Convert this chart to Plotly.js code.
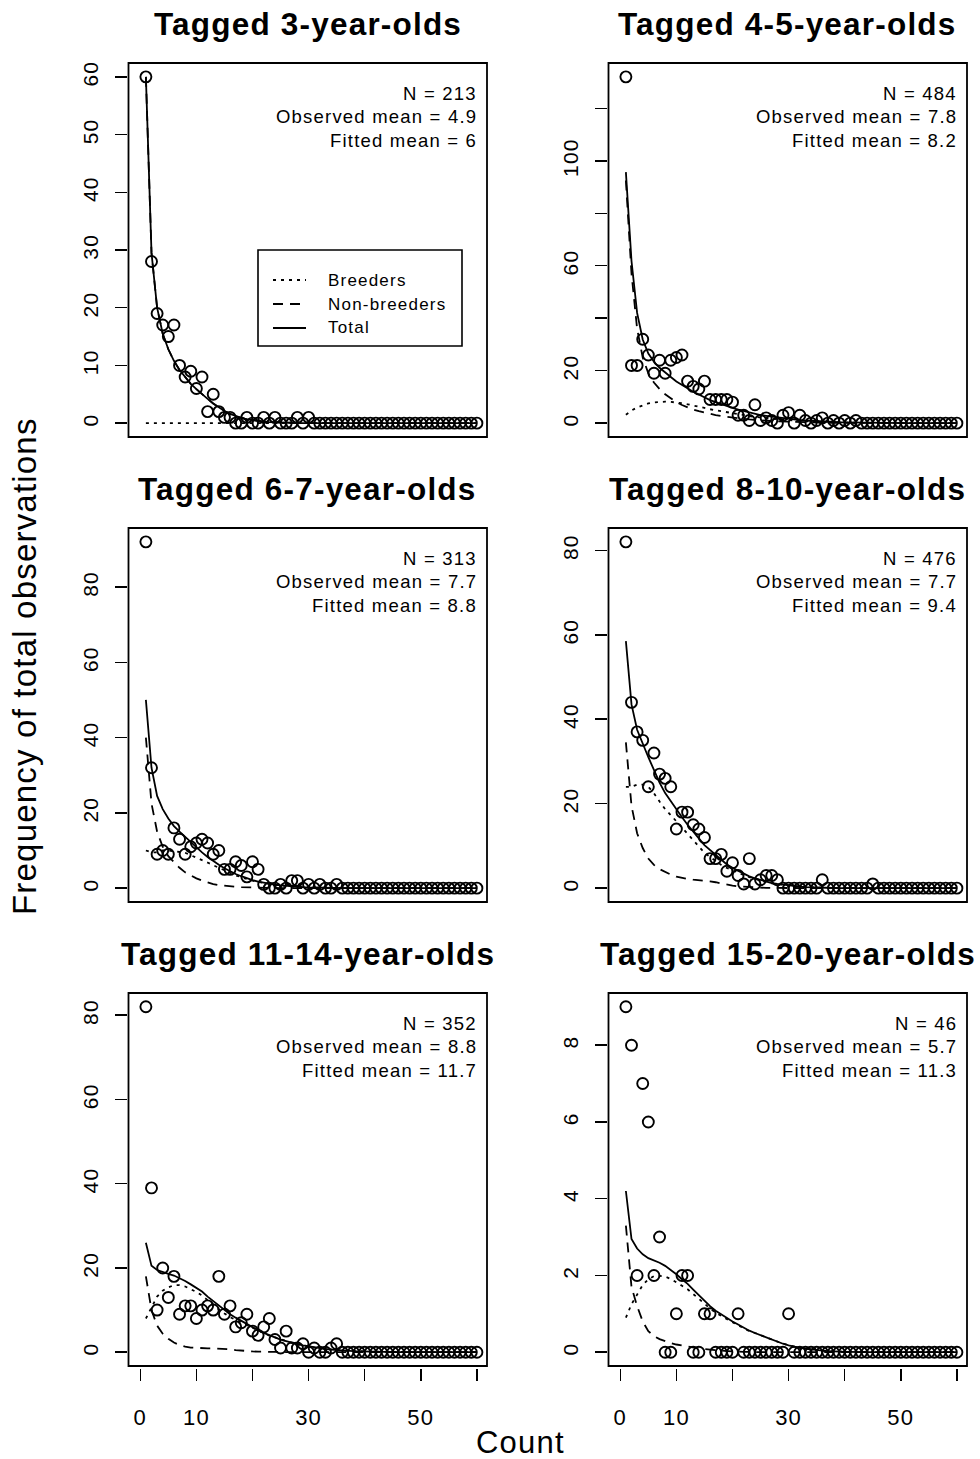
<!DOCTYPE html>
<html>
<head>
<meta charset="utf-8">
<script src="https://cdn.plot.ly/plotly-3.0.1.min.js"></script>
<style>
  html, body { margin: 0; padding: 0; background: #ffffff; }
  #chart { width: 980px; height: 1459px; }
  svg text { letter-spacing: 1.2px; }
</style>
</head>
<body>
<div id="chart"></div>
<script>
// Number of times each tagged bird was counted (x values shared by all panels)
const counts = [1,2,3,4,5,6,7,8,9,10,11,12,13,14,15,16,17,18,19,20,
  21,22,23,24,25,26,27,28,29,30,31,32,33,34,35,36,37,38,39,40,
  41,42,43,44,45,46,47,48,49,50,51,52,53,54,55,56,57,58,59,60];

// ---- Tagged 3-year-olds ----
const obsAge3 = [60,28,19,17,15,17,10,8,9,6, 8,2,5,2,1,1,0,0,1,0,
  0,1,0,1,0,0,0,1,0,1, 0,0,0,0,0,0,0,0,0,0, 0,0,0,0,0,0,0,0,0,0, 0,0,0,0,0,0,0,0,0,0];
const breedersAge3 = [0,0,0,0,0,0,0,0,0,0, 0,0,0,0,0,0,0,0,0,0,
  0,0,0,0,0,0,0,0,0,0, 0,0,0,0,0,0,0,0,0,0, 0,0,0,0,0,0,0,0,0,0, 0,0,0,0,0,0,0,0,0,0];
const nonBreedersAge3 = [60,29.5,20,15.5,12.8,10.8,9.2,7.9,6.8,5.9, 5.0,4.2,3.4,2.7,2.1,1.6,1.2,0.9,0.65,0.48,
  0.35,0.25,0.18,0.13,0.09,0.06,0.04,0.03,0.02,0.01, 0,0,0,0,0,0,0,0,0,0, 0,0,0,0,0,0,0,0,0,0, 0,0,0,0,0,0,0,0,0,0];
const totalAge3 = [60,29.5,20,15.5,12.8,10.8,9.2,7.9,6.8,5.9, 5.0,4.2,3.4,2.7,2.1,1.6,1.2,0.9,0.65,0.48,
  0.35,0.25,0.18,0.13,0.09,0.06,0.04,0.03,0.02,0.01, 0,0,0,0,0,0,0,0,0,0, 0,0,0,0,0,0,0,0,0,0, 0,0,0,0,0,0,0,0,0,0];

// ---- Tagged 4-5-year-olds ----
const obsAge4to5 = [132,22,22,32,26,19,24,19,24,25, 26,16,14,13,16,9,9,9,9,8,
  3,3,1,7,1,2,1,0,3,4, 0,3,1,0,1,2,0,1,0,1, 0,1,0,0,0,0,0,0,0,0, 0,0,0,0,0,0,0,0,0,0];
const breedersAge4to5 = [3.2,4.8,6.0,6.9,7.5,7.9,8.1,8.2,8.1,7.9, 7.6,7.2,6.8,6.3,5.8,5.3,4.9,4.5,4.1,3.7,
  3.4,3.0,2.7,2.4,2.1,1.9,1.7,1.5,1.3,1.1, 0.95,0.8,0.7,0.6,0.5,0.42,0.35,0.29,0.24,0.2,
  0.16,0.13,0.1,0.08,0.06,0.05,0.04,0.03,0.02,0.02, 0.01,0.01,0.01,0,0,0,0,0,0,0];
const nonBreedersAge4to5 = [92.5,57,36,25,19,15.5,13,11,9.5,8, 6.9,6,5.2,4.6,4.0,3.5,3.1,2.7,2.4,2.1,
  1.8,1.6,1.4,1.2,1.0,0.9,0.8,0.7,0.6,0.5, 0.42,0.36,0.3,0.25,0.21,0.18,0.15,0.12,0.1,0.08,
  0.07,0.06,0.05,0.04,0.03,0.03,0.02,0.02,0.01,0.01, 0.01,0,0,0,0,0,0,0,0,0];
const totalAge4to5 = [95.7,61.8,42,31.9,26.5,23.4,21.1,19.2,17.6,15.9, 14.5,13.2,12.0,10.9,9.8,8.8,8.0,7.2,6.5,5.8,
  5.2,4.6,4.1,3.6,3.1,2.8,2.5,2.2,1.9,1.6, 1.37,1.16,1.0,0.85,0.71,0.6,0.5,0.41,0.34,0.28,
  0.23,0.19,0.15,0.12,0.09,0.08,0.06,0.05,0.03,0.03, 0.02,0.01,0.01,0,0,0,0,0,0,0];

// ---- Tagged 6-7-year-olds ----
const obsAge6to7 = [92,32,9,10,9,16,13,9,11,12, 13,12,9,10,5,5,7,6,3,7,
  5,1,0,0,1,0,2,2,0,1, 0,1,0,0,1,0,0,0,0,0, 0,0,0,0,0,0,0,0,0,0, 0,0,0,0,0,0,0,0,0,0];
const breedersAge6to7 = [10,9.5,9.5,10,10,9.7,9.6,9.4,8.8,8.2, 7.5,6.8,6.1,5.4,4.7,4.0,3.4,2.9,2.4,2.0,
  1.65,1.35,1.1,0.88,0.7,0.55,0.43,0.33,0.25,0.19, 0.14,0.1,0.08,0.06,0.04,0.03,0.02,0.01,0.01,0,
  0,0,0,0,0,0,0,0,0,0, 0,0,0,0,0,0,0,0,0,0];
const nonBreedersAge6to7 = [40,22.5,15,11,8.5,6.8,5.4,4.2,3.3,2.6, 2.0,1.5,1.1,0.8,0.6,0.45,0.35,0.27,0.2,0.15,
  0.11,0.08,0.06,0.04,0.03,0.02,0.01,0.01,0,0, 0,0,0,0,0,0,0,0,0,0, 0,0,0,0,0,0,0,0,0,0, 0,0,0,0,0,0,0,0,0,0];
const totalAge6to7 = [50,32,24.5,21,18.5,16.5,15,13.6,12.1,10.8, 9.5,8.3,7.2,6.2,5.3,4.45,3.75,3.17,2.6,2.15,
  1.76,1.43,1.16,0.92,0.73,0.57,0.44,0.34,0.25,0.19, 0.14,0.1,0.08,0.06,0.04,0.03,0.02,0.01,0.01,0,
  0,0,0,0,0,0,0,0,0,0, 0,0,0,0,0,0,0,0,0,0];

// ---- Tagged 8-10-year-olds ----
const obsAge8to10 = [82,44,37,35,24,32,27,26,24,14, 18,18,15,14,12,7,7,8,4,6,
  3,1,7,1,2,3,3,2,0,0, 0,0,0,0,0,2,0,0,0,0, 0,0,0,0,1,0,0,0,0,0, 0,0,0,0,0,0,0,0,0,0];
const breedersAge8to10 = [24,24,24.5,24.5,24,22.5,20.5,18.7,17.3,15.8, 14.4,12.8,11.3,9.9,8.4,7.4,6.4,5.5,4.8,4.2,
  3.7,3.1,2.6,2.15,1.8,1.43,1.15,0.97,0.78,0.59, 0.45,0.35,0.25,0.18,0.12,0.08,0.05,0.03,0.02,0.01,
  0,0,0,0,0,0,0,0,0,0, 0,0,0,0,0,0,0,0,0,0];
const nonBreedersAge8to10 = [34.5,19.5,13,9.5,7,5.5,4.5,3.8,3.2,2.7, 2.4,2.2,2.0,1.9,1.8,1.6,1.4,1.1,0.8,0.6,
  0.4,0.3,0.2,0.15,0.1,0.07,0.05,0.03,0.02,0.01, 0,0,0,0,0,0,0,0,0,0, 0,0,0,0,0,0,0,0,0,0, 0,0,0,0,0,0,0,0,0,0];
const totalAge8to10 = [58.5,43.5,37.5,34,31,28,25,22.5,20.5,18.5, 16.8,15,13.3,11.8,10.2,9,7.8,6.6,5.6,4.8,
  4.1,3.4,2.8,2.3,1.9,1.5,1.2,1.0,0.8,0.6, 0.45,0.35,0.25,0.18,0.12,0.08,0.05,0.03,0.02,0.01,
  0,0,0,0,0,0,0,0,0,0, 0,0,0,0,0,0,0,0,0,0];

// ---- Tagged 11-14-year-olds ----
const obsAge11to14 = [82,39,10,20,13,18,9,11,11,8, 10,11,10,18,9,11,6,7,9,5,
  4,6,8,3,1,5,1,1,2,0, 1,0,0,1,2,0,0,0,0,0, 0,0,0,0,0,0,0,0,0,0, 0,0,0,0,0,0,0,0,0,0];
const breedersAge11to14 = [8,10.5,13.2,14.6,15.4,15.9,15.9,15.6,15.0,14.3, 13.45,12.3,11.2,10.15,9.2,8.3,7.7,7.05,6.35,5.72,
  5.08,4.52,3.95,3.47,2.98,2.59,2.2,1.9,1.6,1.35, 1.1,0.92,0.76,0.62,0.5,0.4,0.32,0.25,0.2,0.15,
  0.12,0.09,0.07,0.05,0.04,0.03,0.02,0.02,0.01,0.01, 0,0,0,0,0,0,0,0,0,0];
const nonBreedersAge11to14 = [18,10,6.3,4.4,3.2,2.3,1.7,1.3,1.1,1.0, 0.95,0.9,0.9,0.85,0.8,0.7,0.5,0.35,0.25,0.18,
  0.12,0.08,0.05,0.03,0.02,0.01,0,0,0,0, 0,0,0,0,0,0,0,0,0,0, 0,0,0,0,0,0,0,0,0,0, 0,0,0,0,0,0,0,0,0,0];
const totalAge11to14 = [26,20.5,19.5,19,18.6,18.2,17.6,16.9,16.1,15.3, 14.4,13.2,12.1,11.0,10.0,9.0,8.2,7.4,6.6,5.9,
  5.2,4.6,4.0,3.5,3.0,2.6,2.2,1.9,1.6,1.35, 1.1,0.92,0.76,0.62,0.5,0.4,0.32,0.25,0.2,0.15,
  0.12,0.09,0.07,0.05,0.04,0.03,0.02,0.02,0.01,0.01, 0,0,0,0,0,0,0,0,0,0];

// ---- Tagged 15-20-year-olds ----
const obsAge15to20 = [9,8,2,7,6,2,3,0,0,1, 2,2,0,0,1,1,0,0,0,0,
  1,0,0,0,0,0,0,0,0,1, 0,0,0,0,0,0,0,0,0,0, 0,0,0,0,0,0,0,0,0,0, 0,0,0,0,0,0,0,0,0,0];
const breedersAge15to20 = [0.9,1.25,1.5,1.75,1.9,1.98,1.99,1.97,1.91,1.83, 1.73,1.64,1.51,1.38,1.25,1.14,1.03,0.94,0.85,0.78,
  0.7,0.62,0.55,0.5,0.44,0.38,0.32,0.27,0.22,0.18, 0.14,0.11,0.09,0.07,0.05,0.04,0.03,0.02,0.02,0.01,
  0.01,0,0,0,0,0,0,0,0,0, 0,0,0,0,0,0,0,0,0,0];
const nonBreedersAge15to20 = [3.3,1.7,1.2,0.8,0.55,0.42,0.34,0.28,0.24,0.2, 0.17,0.14,0.12,0.1,0.08,0.06,0.05,0.04,0.03,0.02,
  0.02,0.01,0.01,0,0,0,0,0,0,0, 0,0,0,0,0,0,0,0,0,0, 0,0,0,0,0,0,0,0,0,0, 0,0,0,0,0,0,0,0,0,0];
const totalAge15to20 = [4.2,2.95,2.7,2.55,2.45,2.4,2.33,2.25,2.15,2.03, 1.9,1.78,1.63,1.48,1.33,1.2,1.08,0.98,0.88,0.8,
  0.72,0.63,0.56,0.5,0.44,0.38,0.32,0.27,0.22,0.18, 0.14,0.11,0.09,0.07,0.05,0.04,0.03,0.02,0.02,0.01,
  0.01,0,0,0,0,0,0,0,0,0, 0,0,0,0,0,0,0,0,0,0];

// Panel headings and summary statistics
const panelTitles = ['Tagged 3-year-olds', 'Tagged 4-5-year-olds', 'Tagged 6-7-year-olds',
  'Tagged 8-10-year-olds', 'Tagged 11-14-year-olds', 'Tagged 15-20-year-olds'];
const sampleSizes = [213, 484, 313, 476, 352, 46];
const observedMeans = ['4.9', '7.8', '7.7', '7.7', '8.8', '5.7'];
const fittedMeans = ['6', '8.2', '8.8', '9.4', '11.7', '11.3'];

// Axis ticks
const xTickVals = [0, 10, 20, 30, 40, 50, 60];
const xTickText = ['0', '10', '', '30', '', '50', ''];
const yTickVals = [
  [0, 10, 20, 30, 40, 50, 60],
  [0, 20, 40, 60, 80, 100, 120],
  [0, 20, 40, 60, 80],
  [0, 20, 40, 60, 80],
  [0, 20, 40, 60, 80],
  [0, 2, 4, 6, 8]
];
const yTickText = [
  ['0', '10', '20', '30', '40', '50', '60'],
  ['0', '20', '', '60', '', '100', ''],
  ['0', '20', '40', '60', '80'],
  ['0', '20', '40', '60', '80'],
  ['0', '20', '40', '60', '80'],
  ['0', '2', '4', '6', '8']
];

// Legend entries (panel 1 only)
const legendLabels = ['Breeders', 'Non-breeders', 'Total'];

const panels = [
  { obs: obsAge3, breeders: breedersAge3, nonBreeders: nonBreedersAge3, total: totalAge3 },
  { obs: obsAge4to5, breeders: breedersAge4to5, nonBreeders: nonBreedersAge4to5, total: totalAge4to5 },
  { obs: obsAge6to7, breeders: breedersAge6to7, nonBreeders: nonBreedersAge6to7, total: totalAge6to7 },
  { obs: obsAge8to10, breeders: breedersAge8to10, nonBreeders: nonBreedersAge8to10, total: totalAge8to10 },
  { obs: obsAge11to14, breeders: breedersAge11to14, nonBreeders: nonBreedersAge11to14, total: totalAge11to14 },
  { obs: obsAge15to20, breeders: breedersAge15to20, nonBreeders: nonBreedersAge15to20, total: totalAge15to20 }
];

// ---- Page geometry (pixels) ----
const W = 980, H = 1459;
const FONT = 'Liberation Sans, Arial, Helvetica, sans-serif';
const colEdges = [[128.5, 487], [608.5, 967]];
const rowEdges = [[63, 437], [528, 902], [993, 1366]];
const fx = p => p / W;
const fy = p => 1 - p / H;

const DOT = '3px,5px';
const DASH = '10px,7px';
const LW = 1.8;

const traces = [];
const layout = {
  width: W, height: H, autosize: false,
  margin: { l: 0, r: 0, t: 0, b: 0 },
  paper_bgcolor: '#ffffff', plot_bgcolor: '#ffffff',
  showlegend: false,
  font: { family: FONT, color: '#000000' },
  shapes: [], annotations: []
};

panels.forEach((p, k) => {
  const row = Math.floor(k / 2), col = k % 2;
  const s = k === 0 ? '' : String(k + 1);
  const [L, R] = colEdges[col];
  const [T, B] = rowEdges[row];
  const yMax = Math.max(...p.obs);

  layout['xaxis' + s] = Object.assign({
    domain: [fx(L), fx(R)], range: [-2.1, 61.8],
    showgrid: false, zeroline: false, showline: false, fixedrange: true, automargin: false
  }, row === 2 ? {
    anchor: 'free', position: fy(B + 2),
    ticks: 'outside', ticklen: 12, tickwidth: 1.5, tickcolor: '#000',
    tickmode: 'array', tickvals: xTickVals, ticktext: xTickText,
    tickfont: { family: FONT, size: 22, color: '#000' }, ticklabelstandoff: 18
  } : {
    anchor: 'y' + s, showticklabels: false, ticks: ''
  });

  layout['yaxis' + s] = {
    domain: [fy(B), fy(T)], range: [-0.04 * yMax, 1.04 * yMax],
    anchor: 'free', position: fx(L - 2), side: 'left',
    ticks: 'outside', ticklen: 12, tickwidth: 1.5, tickcolor: '#000',
    tickmode: 'array', tickvals: yTickVals[k], ticktext: yTickText[k], tickangle: -90,
    tickfont: { family: FONT, size: 21, color: '#000' }, ticklabelstandoff: 8,
    showgrid: false, zeroline: false, showline: false, fixedrange: true, automargin: false
  };

  const xa = 'x' + s, ya = 'y' + s;
  traces.push({
    type: 'scatter', mode: 'markers', x: counts, y: p.obs, xaxis: xa, yaxis: ya,
    marker: { symbol: 'circle-open', size: 11, color: '#000', line: { width: 1.9, color: '#000' } },
    cliponaxis: false, hoverinfo: 'skip'
  });
  traces.push({
    type: 'scatter', mode: 'lines', x: counts, y: p.breeders, xaxis: xa, yaxis: ya,
    line: { color: '#000', width: LW, dash: DOT }, hoverinfo: 'skip'
  });
  traces.push({
    type: 'scatter', mode: 'lines', x: counts, y: p.nonBreeders, xaxis: xa, yaxis: ya,
    line: { color: '#000', width: LW, dash: DASH }, hoverinfo: 'skip'
  });
  traces.push({
    type: 'scatter', mode: 'lines', x: counts, y: p.total, xaxis: xa, yaxis: ya,
    line: { color: '#000', width: LW }, hoverinfo: 'skip'
  });

  // Frame around the plotting region
  layout.shapes.push({
    type: 'rect', xref: xa + ' domain', yref: ya + ' domain', x0: 0, x1: 1, y0: 0, y1: 1,
    line: { color: '#000', width: 1.8 }, fillcolor: 'rgba(0,0,0,0)'
  });

  // Panel heading
  layout.annotations.push({
    text: '<b>' + panelTitles[k] + '</b>', xref: 'paper', yref: 'paper',
    x: fx((L + R) / 2), y: fy(T - 38.7), xanchor: 'center', yanchor: 'middle',
    showarrow: false, font: { family: FONT, size: 31.5, color: '#000' }
  });

  // Summary statistics in the top-right corner
  const statLines = ['N = ' + sampleSizes[k], 'Observed mean = ' + observedMeans[k],
    'Fitted mean = ' + fittedMeans[k]];
  statLines.forEach((txt, j) => {
    layout.annotations.push({
      text: txt, xref: 'paper', yref: 'paper',
      x: fx(R - 8), y: fy(T + 30.4 + 23.5 * j), xanchor: 'right', yanchor: 'middle',
      showarrow: false, font: { family: FONT, size: 18.5, color: '#000' }
    });
  });
});

// Legend box in the first panel
layout.shapes.push({
  type: 'rect', xref: 'paper', yref: 'paper',
  x0: fx(258), x1: fx(462), y0: fy(346), y1: fy(250),
  line: { color: '#000', width: 1.6 }, fillcolor: '#ffffff'
});
const legendRows = [280, 304, 328];
const legendDash = [DOT, DASH, 'solid'];
legendLabels.forEach((lab, j) => {
  layout.shapes.push({
    type: 'line', xref: 'paper', yref: 'paper',
    x0: fx(273), x1: fx(306), y0: fy(legendRows[j]), y1: fy(legendRows[j]),
    line: { color: '#000', width: LW, dash: legendDash[j] }
  });
  layout.annotations.push({
    text: lab, xref: 'paper', yref: 'paper', x: fx(326), y: fy(legendRows[j]),
    xanchor: 'left', yanchor: 'middle', showarrow: false,
    font: { family: FONT, size: 17, color: '#000' }
  });
});

// Shared axis titles
layout.annotations.push({
  text: 'Count', xref: 'paper', yref: 'paper', x: fx(520), y: fy(1442),
  xanchor: 'center', yanchor: 'middle', showarrow: false,
  font: { family: FONT, size: 31, color: '#000' }
});
layout.annotations.push({
  text: 'Frequency of total observations', xref: 'paper', yref: 'paper',
  x: fx(24), y: fy(666), xanchor: 'center', yanchor: 'middle', textangle: -90,
  showarrow: false, font: { family: FONT, size: 33, color: '#000' }
});

Plotly.newPlot('chart', traces, layout, { staticPlot: true, displayModeBar: false });
</script>
</body>
</html>
